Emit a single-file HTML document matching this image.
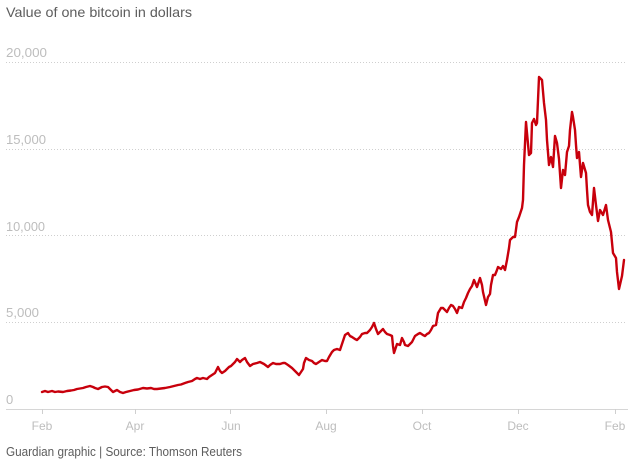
<!DOCTYPE html>
<html><head><meta charset="utf-8"><style>
html,body{margin:0;padding:0;background:#fff;}
svg{display:block;}
text{font-family:"Liberation Sans",sans-serif;}
</style></head><body>
<svg width="642" height="464" viewBox="0 0 642 464" xmlns="http://www.w3.org/2000/svg">
<text x="6" y="17" font-size="14" fill="#5d5d5d" textLength="186" lengthAdjust="spacingAndGlyphs">Value of one bitcoin in dollars</text>
<g stroke="#cfcfcf" stroke-width="1" stroke-dasharray="1,2">
<line x1="6" y1="62.5" x2="626" y2="62.5"/>
<line x1="6" y1="149.5" x2="626" y2="149.5"/>
<line x1="6" y1="235.5" x2="626" y2="235.5"/>
<line x1="6" y1="322.5" x2="626" y2="322.5"/>
</g>
<line x1="6" y1="409.5" x2="628" y2="409.5" stroke="#d6d6d6" stroke-width="1"/>
<g stroke="#cfcfcf" stroke-width="1">
<line x1="42.5" y1="409" x2="42.5" y2="414"/>
<line x1="135.5" y1="409" x2="135.5" y2="414"/>
<line x1="230.5" y1="409" x2="230.5" y2="414"/>
<line x1="326.5" y1="409" x2="326.5" y2="414"/>
<line x1="422.5" y1="409" x2="422.5" y2="414"/>
<line x1="518.5" y1="409" x2="518.5" y2="414"/>
<line x1="615.5" y1="409" x2="615.5" y2="414"/>
</g>
<g font-size="13" fill="#bdbdbd">
<text x="6" y="57" textLength="41" lengthAdjust="spacingAndGlyphs">20,000</text>
<text x="6" y="144" textLength="40" lengthAdjust="spacingAndGlyphs">15,000</text>
<text x="6" y="231" textLength="39" lengthAdjust="spacingAndGlyphs">10,000</text>
<text x="6" y="317" textLength="33" lengthAdjust="spacingAndGlyphs">5,000</text>
<text x="6" y="404">0</text>
</g>
<g font-size="12" fill="#bdbdbd" text-anchor="middle">
<text x="42" y="430">Feb</text>
<text x="135" y="430">Apr</text>
<text x="231" y="430">Jun</text>
<text x="326" y="430">Aug</text>
<text x="422" y="430">Oct</text>
<text x="518" y="430">Dec</text>
<text x="615" y="430">Feb</text>
</g>
<polyline fill="none" stroke="#c8000c" stroke-width="2.4" stroke-linejoin="round" stroke-linecap="round" points="42,392 45,391 48,392 52,391 55,392 58,391.5 63,392 67,391 71,390.5 74,390 77,389 80,388.5 83,388 86,387 90,386 93,387 95,388 98,389 100,388 102,387 105,386.5 108,387 110,389 113,392 115,391 117,390 120,392 123,393 126,392 130,391 134,390 138,389.5 143,388 147,388.5 151,388 154,389 157,389 161,388.5 165,388 170,387 174,386 178,385 181,384.5 185,383 188,382 192,381 195,379 197,378 200,379 203,378 207,379 209,377 212,375 215,373 218,367 220,371 222,373 225,371 227,369 229,367 231,366 233,364 235,362 237,359 239,361 240,362 242,360 245,358 247,362 250,366 253,364 257,363 260,362 264,364 268,367 270,365 273,363 276,364 280,364 283,363 285,363 288,365 292,368 295,371 299,375 301,372 303,369 304,363 306,358 309,360 312,361 314,363 316,364 319,362 322,360 325,361 327,361 329,357 332,352 334,350 337,349 340,350 342,344 345,335 348,333 350,336 352,337 355,339 357,340 360,337 362,334 365,333 367,333 370,330 372,327 374,323 376,329 378,334 381,331 383,329 385,332 387,334 390,335 392,336 393,346 394,353 396,347 397,344 400,345 402,338 404,342 405,345 408,346 410,344 412,342 414,338 415,336 418,334 420,333 423,335 425,336 427,334 429,333 431,330 433,326 436,325 437,319 438,313 441,308 443,308 445,310 447,312 449,308 451,305 453,306 455,309 457,313 459,307 462,308 464,302 466,298 468,293 470,289 472,286 474,280 477,287 480,278 482,285 483,292 486,305 488,297 490,294 491,285 493,275 495,275 497,270 498,267 501,269 503,266 505,270 507,260 509,248 510,240 513,237 515,237 517,222 519,217 522,208 523,200 524,165 526,122 527,133 529,155 531,153 532,123 534,119 536,125 537,123 538,100 539,77 542,80 544,103 546,120 547,140 549,165 551,157 553,167 555,136 557,143 559,159 561,188 563,170 565,175 567,152 569,146 570,130 572,112 573,117 575,130 576,145 577,158 579,152 581,177 583,163 586,173 587,190 588,205 590,212 592,215 594,188 596,205 598,221 600,210 603,215 606,205 608,220 611,232 613,253 616,258 617,272 619,289 622,276 624,260"/>
<text x="6" y="456" font-size="13" fill="#5d5d5d" textLength="236" lengthAdjust="spacingAndGlyphs">Guardian graphic | Source: Thomson Reuters</text>
</svg>
</body></html>
